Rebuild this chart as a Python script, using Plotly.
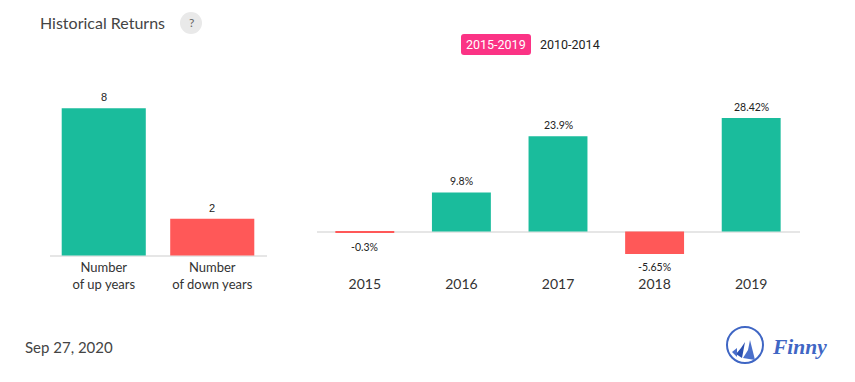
import plotly.graph_objects as go

W, H = 855, 382

count_labels = ["Number<br>of up years", "Number<br>of down years"]
count_values = [8, 2]
count_text = ["8", "2"]
count_colors = ["#1abc9c", "#ff5858"]

years = ["2015", "2016", "2017", "2018", "2019"]
returns = [-0.3, 9.8, 23.9, -5.65, 28.42]
return_text = ["-0.3%", "9.8%", "23.9%", "-5.65%", "28.42%"]
return_colors = ["#ff5858", "#1abc9c", "#1abc9c", "#ff5858", "#1abc9c"]


def px(x):
    return x / W


def py(y):
    return 1 - y / H


def rounded(x0, y0, x1, y1, r):
    return (f"M{px(x0 + r)},{py(y0)} L{px(x1 - r)},{py(y0)} Q{px(x1)},{py(y0)} {px(x1)},{py(y0 + r)} "
            f"L{px(x1)},{py(y1 - r)} Q{px(x1)},{py(y1)} {px(x1 - r)},{py(y1)} "
            f"L{px(x0 + r)},{py(y1)} Q{px(x0)},{py(y1)} {px(x0)},{py(y1 - r)} "
            f"L{px(x0)},{py(y0 + r)} Q{px(x0)},{py(y0)} {px(x0 + r)},{py(y0)} Z")


def poly(points):
    return "M" + " L".join(f"{px(a)},{py(b)}" for a, b in points) + " Z"


fig = go.Figure()
fig.add_trace(go.Bar(x=count_labels, y=count_values, marker_color=count_colors, marker_line_width=0,
                     width=0.775, xaxis="x", yaxis="y", hoverinfo="skip"))
fig.add_trace(go.Bar(x=years, y=returns, marker_color=return_colors, marker_line_width=0,
                     width=0.61, xaxis="x2", yaxis="y2", hoverinfo="skip"))

ann = []
label_font = dict(family="Lato", size=10.5, color="#222222")
for i, (v, t) in enumerate(zip(count_values, count_text)):
    ann.append(dict(x=i, y=v, xref="x", yref="y", text=t, showarrow=False,
                    font=dict(family="Liberation Sans", size=11, color="#222222"),
                    yanchor="middle", yshift=11))
for i, (v, t) in enumerate(zip(returns, return_text)):
    ann.append(dict(x=i, y=v, xref="x2", yref="y2", text=t, showarrow=False, font=label_font,
                    yanchor="middle", yshift=11 if v > 0 else (-13 if v < -1 else -14)))


def page_text(x, y, text, size, color, family="Lato", anchor="left"):
    ann.append(dict(x=px(x), y=py(y), xref="paper", yref="paper", text=text, showarrow=False, xanchor=anchor,
                    yanchor="middle", font=dict(family=family, size=size, color=color), borderpad=0))


page_text(39, 22.5, "Historical Returns", 16, "#444444")
page_text(191, 23, "?", 12, "#666666", anchor="center")
page_text(496, 45, "2015-2019", 12.5, "#ffffff", "Roboto", "center")
page_text(570, 45, "2010-2014", 12.5, "#222222", "Roboto", "center")
page_text(24, 347, "Sep 27, 2020", 15, "#444444")
page_text(771, 347, "<b><i>Finny</i></b>", 21.5, "#3f66c4", "Liberation Serif")

shapes = [
    dict(type="circle", xref="paper", yref="paper", x0=px(180), x1=px(202), y0=py(34), y1=py(12),
         fillcolor="#e9e9e9", line_width=0, layer="below"),
    dict(type="path", xref="paper", yref="paper", path=rounded(461, 34, 531, 55, 3), fillcolor="#fb3385",
         line_width=0, layer="below"),
    dict(type="circle", xref="paper", yref="paper", x0=px(727), x1=px(763), y0=py(363), y1=py(327),
         line=dict(color="#3f66c4", width=2)),
    dict(type="path", xref="paper", yref="paper", path=poly([(750, 340), (755, 360), (743, 358), (748, 350)]),
         fillcolor="#4a6fcb", line_width=0),
    dict(type="path", xref="paper", yref="paper", path=poly([(745, 342), (742, 358), (736, 354), (741, 348)]),
         fillcolor="#2a4fb0", line_width=0),
    dict(type="path", xref="paper", yref="paper", path=poly([(737, 348), (737, 357), (732, 352)]),
         fillcolor="#4a6fcb", line_width=0),
]

# pixel-per-unit scales: left 18.4 px/unit with zero at y=255.5, right 3.99 px/unit with zero at y=231.5
left_range = [(255.5 - H) / 18.4, 255.5 / 18.4]
right_range = [(231.5 - H) / 3.99, 231.5 / 3.99]

fig.update_layout(
    width=W, height=H, autosize=False, margin=dict(l=0, r=0, t=0, b=0, pad=0, autoexpand=False), showlegend=False,
    plot_bgcolor="#ffffff", paper_bgcolor="#ffffff", annotations=ann, shapes=shapes,
    xaxis=dict(type="category", domain=[px(49.5), px(266.5)], range=[-0.5, 1.5], anchor="free", position=py(258),
               showgrid=False, zeroline=False, showline=False, ticks="", automargin=False,
               tickfont=dict(family="Lato", size=13, color="#333333"), fixedrange=True),
    yaxis=dict(domain=[0, 1], range=left_range, showticklabels=False, showgrid=False, zeroline=True,
               zerolinecolor="#e6e6e6", zerolinewidth=2, anchor="x", showline=False, ticks=""),
    xaxis2=dict(type="category", domain=[px(316.5), px(799.5)], range=[-0.5, 4.5], anchor="free", position=py(274),
                showgrid=False, zeroline=False, showline=False, ticks="", automargin=False,
                tickfont=dict(family="Lato", size=14, color="#333333"), fixedrange=True),
    yaxis2=dict(domain=[0, 1], range=right_range, showticklabels=False, showgrid=False, zeroline=True,
                zerolinecolor="#e6e6e6", zerolinewidth=2, anchor="x2", showline=False, ticks=""),
)
fig.write_html("out.html", config=dict(displayModeBar=False),
               post_script="document.body.style.margin='0';")
